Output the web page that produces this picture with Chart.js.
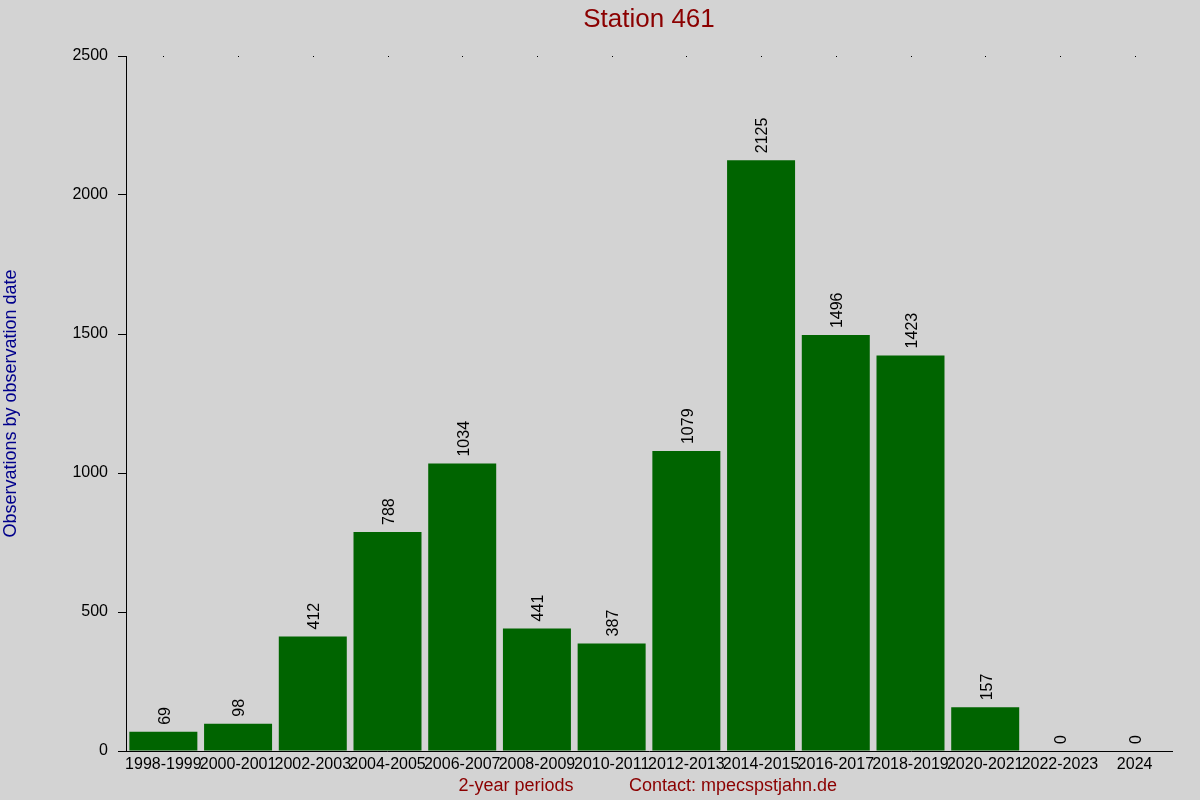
<!DOCTYPE html>
<html>
<head>
<meta charset="utf-8">
<title>Station 461</title>
<script src="https://cdn.jsdelivr.net/npm/chart.js@4.4.1/dist/chart.umd.min.js"></script>
<style>
  html, body { margin: 0; padding: 0; background: #d3d3d3; }
  #wrap { width: 1200px; height: 800px; }
</style>
</head>
<body>
<div id="wrap"><canvas id="obsChart" width="1200" height="800"></canvas></div>
<script>
// Data
const periods = ['1998-1999', '2000-2001', '2002-2003', '2004-2005', '2006-2007', '2008-2009', '2010-2011',
                 '2012-2013', '2014-2015', '2016-2017', '2018-2019', '2020-2021', '2022-2023', '2024'];
const observations = [69, 98, 412, 788, 1034, 441, 387, 1079, 2125, 1496, 1423, 157, 0, 0];
const yTicks = [0, 500, 1000, 1500, 2000, 2500];

const FONT = "'Liberation Sans', Arial, sans-serif";

// Titles, value labels and the little top dots
const decorations = {
    id: 'decorations',
    beforeDraw(chart) {
        const ctx = chart.ctx;
        ctx.save();
        ctx.fillStyle = '#d3d3d3';
        ctx.fillRect(0, 0, chart.width, chart.height);
        ctx.restore();
    },
    afterDatasetsDraw(chart) {
        const ctx = chart.ctx;
        const meta = chart.getDatasetMeta(0);
        ctx.save();
        ctx.fillStyle = '#000';
        ctx.font = '16px ' + FONT;
        ctx.textAlign = 'left';
        ctx.textBaseline = 'middle';
        meta.data.forEach((bar, i) => {
            ctx.save();
            ctx.translate(bar.x + 2, bar.y - 7);
            ctx.rotate(-Math.PI / 2);
            ctx.fillText(String(observations[i]), 0, 0);
            ctx.restore();
        });
        ctx.restore();
    },
    afterDraw(chart) {
        const ctx = chart.ctx;
        const area = chart.chartArea;
        const x = chart.scales.x;
        ctx.save();

        // tiny dots along the top edge
        ctx.fillStyle = '#000';
        periods.forEach((p, i) => {
            ctx.fillRect(Math.round(x.getPixelForValue(i)), area.top, 1, 1);
        });

        ctx.fillStyle = '#8b0000';
        ctx.textAlign = 'center';
        ctx.textBaseline = 'alphabetic';
        ctx.font = '26px ' + FONT;
        ctx.fillText('Station 461', (area.left + area.right) / 2, 27);

        ctx.font = '18px ' + FONT;
        ctx.fillText('2-year periods', 516, 791);
        ctx.fillText('Contact: mpecspstjahn.de', 733, 791);

        ctx.fillStyle = '#00008b';
        ctx.translate(16, (area.top + area.bottom) / 2);
        ctx.rotate(-Math.PI / 2);
        ctx.fillText('Observations by observation date', 0, 0);
        ctx.restore();
    }
};

const ctx = document.getElementById('obsChart').getContext('2d');
const obsChart = new Chart(ctx, {
    type: 'bar',
    data: {
        labels: periods,
        datasets: [{
            data: observations,
            backgroundColor: '#006400',
            borderWidth: 0,
            categoryPercentage: 1.0,
            barPercentage: 0.91
        }]
    },
    options: {
        responsive: false,
        animation: false,
        layout: { padding: { left: 0, right: 28, top: 56, bottom: 0 } },
        plugins: {
            legend: { display: false },
            title: { display: false },
            tooltip: { enabled: false }
        },
        scales: {
            x: {
                grid: { display: true, drawOnChartArea: false, drawTicks: false },
                border: { display: true, color: '#000', width: 1 },
                ticks: {
                    color: '#000',
                    font: { family: FONT, size: 16 },
                    padding: 4,
                    autoSkip: false,
                    maxRotation: 0,
                    minRotation: 0
                },
                afterFit(scale) { scale.height = 49; }
            },
            y: {
                min: 0,
                max: 2500,
                afterBuildTicks(scale) { scale.ticks = yTicks.map(v => ({ value: v })); },
                grid: { display: true, drawOnChartArea: false, drawTicks: true, tickLength: 8, color: '#000' },
                border: { display: true, color: '#000', width: 1 },
                ticks: {
                    color: '#000',
                    font: { family: FONT, size: 16 },
                    padding: 10,
                    callback: v => String(v)
                },
                afterFit(scale) { scale.width = 126; }
            }
        }
    },
    plugins: [decorations]
});
</script>
</body>
</html>
